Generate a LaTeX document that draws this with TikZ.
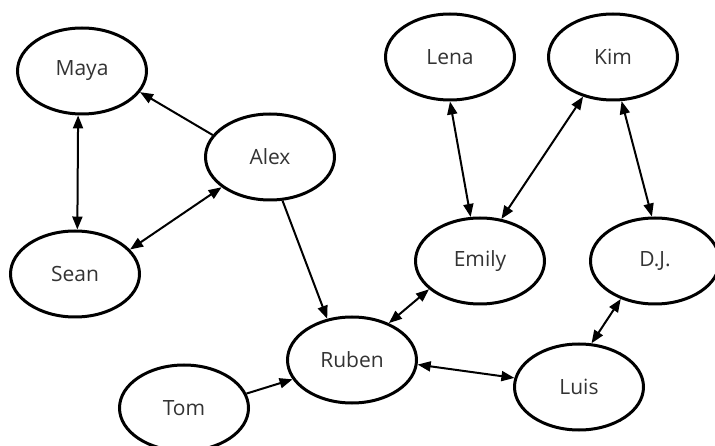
\documentclass[tikz,border=0pt]{standalone}
\usepackage{fontspec}
\setmainfont{Open Sans}
\usetikzlibrary{shapes.geometric,arrows.meta}
\begin{document}
\begin{tikzpicture}[x=1pt,y=-1pt,
  person/.style={ellipse,draw,line width=3pt,minimum width=129pt,minimum height=86pt,inner sep=0pt,font=\fontsize{21}{24}\selectfont,text=black!80},
  link/.style={line width=2pt,-{Triangle[length=13pt,width=10pt]}},
  both/.style={line width=2pt,{Triangle[length=13pt,width=10pt]}-{Triangle[length=13pt,width=10pt]}}]
\useasboundingbox (0,0) rectangle (715,446);
\node[person] (maya) at (82,71) {Maya};
\node[person] (alex) at (270,157) {Alex};
\node[person] (sean) at (75,274) {Sean};
\node[person] (lena) at (450,57) {Lena};
\node[person] (kim) at (613,57) {Kim};
\node[person] (emily) at (480,261) {Emily};
\node[person] (dj) at (655,261) {D.J.};
\node[person] (ruben) at (352,360) {Ruben};
\node[person] (luis) at (579,387) {Luis};
\node[person] (tom) at (184,408) {Tom};
\draw[link] (alex.159) -- (maya.-20);
\draw[both] (maya.265) -- (sean.87);
\draw[both] (alex.212) -- (sean.24);
\draw[link] (alex.286) -- (ruben.121);
\draw[both] (lena.270) -- (emily.102);
\draw[both] (kim.233) -- (emily.63);
\draw[both] (kim.281) -- (dj.94);
\draw[both] (ruben.45) -- (emily.209);
\draw[both] (dj.228) -- (luis.74);
\draw[both] (ruben.356) -- (luis.172);
\draw[link] (tom.13) -- (ruben.198);
\end{tikzpicture}
\end{document}
